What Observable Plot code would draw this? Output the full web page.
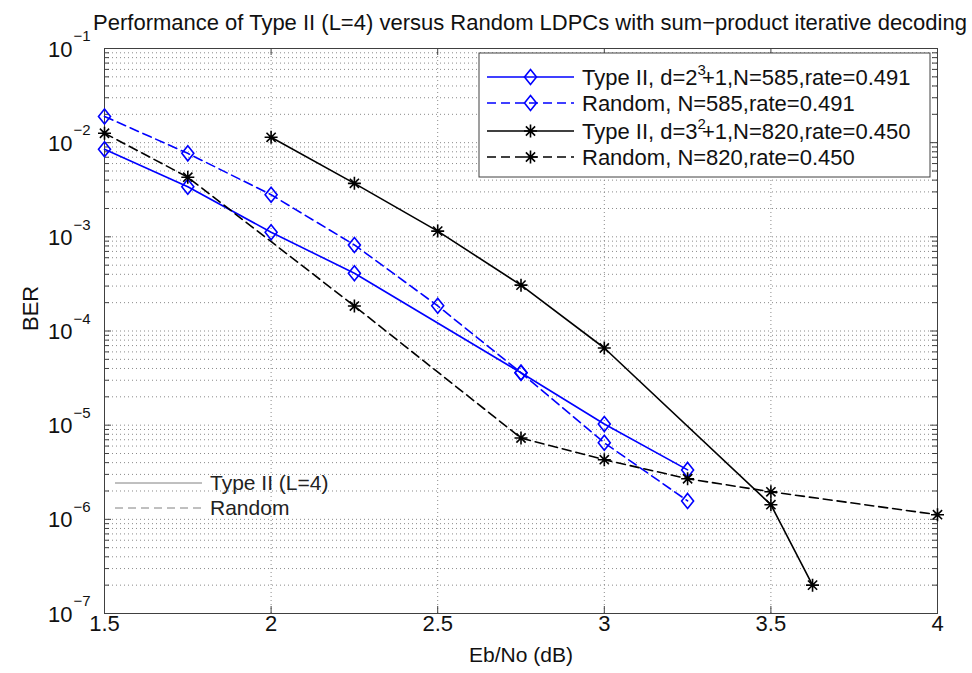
<!DOCTYPE html>
<html><head><meta charset="utf-8">
<script src="https://cdn.jsdelivr.net/npm/d3@7"></script>
<script src="https://cdn.jsdelivr.net/npm/@observablehq/plot@0.6"></script>
<style>
body{margin:0;background:#fff}
svg{font-family:"Liberation Sans",Arial,Helvetica,sans-serif}
</style>
</head><body><div id="chart"></div>
<script>
// ---- data ----
const titleText = "Performance of Type II (L=4) versus Random LDPCs with sum\u2212product iterative decoding";
const xLabel = "Eb/No (dB)";
const yLabel = "BER";

const xType585 = [1.5, 1.75, 2, 2.25, 2.75, 3, 3.25];
const berType585 = [8.5e-3, 3.4e-3, 1.12e-3, 4.1e-4, 3.6e-5, 1.03e-5, 3.35e-6];
const xRand585 = [1.5, 1.75, 2, 2.25, 2.5, 2.75, 3, 3.25];
const berRand585 = [1.9e-2, 7.7e-3, 2.8e-3, 8.2e-4, 1.85e-4, 3.6e-5, 6.5e-6, 1.57e-6];
const xType820 = [2, 2.25, 2.5, 2.75, 3, 3.5, 3.625];
const berType820 = [1.14e-2, 3.7e-3, 1.15e-3, 3.07e-4, 6.6e-5, 1.43e-6, 2.0e-7];
const xRand820 = [1.5, 1.75, 2.25, 2.75, 3, 3.25, 3.5, 4];
const berRand820 = [1.26e-2, 4.3e-3, 1.84e-4, 7.3e-6, 4.3e-6, 2.7e-6, 1.96e-6, 1.12e-6];

const xTicks = [1.5, 2, 2.5, 3, 3.5, 4];
const xTickLabels = ["1.5", "2", "2.5", "3", "3.5", "4"];
const yDecades = [1e-1, 1e-2, 1e-3, 1e-4, 1e-5, 1e-6, 1e-7];
const yExpLabels = ["\u22121", "\u22122", "\u22123", "\u22124", "\u22125", "\u22126", "\u22127"];

// ---- layout / style ----
const W = 972, H = 673;
const mL = 104, mR = 35, mT = 48, mB = 60;
const plotW = W - mL - mR, plotH = H - mT - mB;
const BLUE = "#0000ff", BLACK = "#000000";
const DASH = "9,5";
const FS = 22;

const rowsOf = (xs, ys) => xs.map((x, i) => ({x, y: ys[i]}));
const s585t = rowsOf(xType585, berType585);
const s585r = rowsOf(xRand585, berRand585);
const s820t = rowsOf(xType820, berType820);
const s820r = rowsOf(xRand820, berRand820);

// minor log ticks / grid
const yMinor = [];
for (const d of yDecades.slice(1)) for (const m of [2,3,4,5,6,7,8,9]) yMinor.push(m * d);
const yAllGrid = [...yDecades, ...yMinor];

const diamondSym = {draw(ctx) { ctx.moveTo(0, -7.5); ctx.lineTo(6, 0); ctx.lineTo(0, 7.5); ctx.lineTo(-6, 0); ctx.closePath(); }};
const starSym = {draw(ctx) {
  ctx.moveTo(-6.5, 0); ctx.lineTo(6.5, 0); ctx.moveTo(0, -6.5); ctx.lineTo(0, 6.5);
  ctx.moveTo(-4.6, -4.6); ctx.lineTo(4.6, 4.6); ctx.moveTo(-4.6, 4.6); ctx.lineTo(4.6, -4.6);
}};

const chart = Plot.plot({
  width: W, height: H,
  marginLeft: mL, marginRight: mR, marginTop: mT, marginBottom: mB,
  style: {fontSize: FS + "px", fontFamily: "'Liberation Sans', Arial, sans-serif", background: "#fff", overflow: "visible"},
  x: {domain: [1.5, 4], axis: null},
  y: {type: "log", domain: [1e-7, 1e-1], axis: null},
  marks: [
    Plot.ruleY(yAllGrid, {y: d => d, stroke: "#8a8a8a", strokeDasharray: "1,3", strokeWidth: 1}),
    Plot.ruleX(xTicks.slice(1, -1), {x: d => d, stroke: "#8a8a8a", strokeDasharray: "1,3", strokeWidth: 1}),
    // inward ticks
    Plot.tickY(yDecades, {y: d => d, insetRight: plotW - 7, stroke: "#404040"}),
    Plot.tickY(yDecades, {y: d => d, insetLeft: plotW - 7, stroke: "#404040"}),
    Plot.tickY(yMinor, {y: d => d, insetRight: plotW - 5, stroke: "#404040"}),
    Plot.tickY(yMinor, {y: d => d, insetLeft: plotW - 5, stroke: "#404040"}),
    Plot.tickX(xTicks, {x: d => d, insetTop: plotH - 7, stroke: "#404040"}),
    Plot.tickX(xTicks, {x: d => d, insetBottom: plotH - 7, stroke: "#404040"}),
    Plot.frame({stroke: "#404040", strokeWidth: 1}),
    // series lines
    Plot.line(s585t, {x: "x", y: "y", stroke: BLUE, strokeWidth: 1.6}),
    Plot.line(s585r, {x: "x", y: "y", stroke: BLUE, strokeWidth: 1.6, strokeDasharray: DASH}),
    Plot.line(s820t, {x: "x", y: "y", stroke: BLACK, strokeWidth: 1.6}),
    Plot.line(s820r, {x: "x", y: "y", stroke: BLACK, strokeWidth: 1.6, strokeDasharray: DASH}),
    // markers
    Plot.dot(s585t, {x: "x", y: "y", symbol: diamondSym, stroke: BLUE, fill: "none", strokeWidth: 1.6}),
    Plot.dot(s585r, {x: "x", y: "y", symbol: diamondSym, stroke: BLUE, fill: "none", strokeWidth: 1.6}),
    Plot.dot(s820t, {x: "x", y: "y", symbol: starSym, stroke: BLACK, fill: "none", strokeWidth: 1.6}),
    Plot.dot(s820r, {x: "x", y: "y", symbol: starSym, stroke: BLACK, fill: "none", strokeWidth: 1.6}),
    // tick labels
    Plot.text(xTicks, {x: d => d, frameAnchor: "bottom", text: (d, i) => xTickLabels[i], dy: 17, fontSize: FS, fill: "#111"}),
    Plot.text(yDecades, {y: d => d, frameAnchor: "left", text: () => "10", textAnchor: "end", dx: -32, dy: 1, fontSize: FS, fill: "#111"}),
    Plot.text(yDecades, {y: d => d, frameAnchor: "left", text: (d, i) => yExpLabels[i], textAnchor: "start", dx: -31, dy: -12, fontSize: 15, fill: "#111"}),
    // titles
    Plot.text([titleText], {frameAnchor: "top", text: d => d, dx: 9, dy: -34, fontSize: FS, fill: "#111"}),
    Plot.text([xLabel], {frameAnchor: "bottom", text: d => d, dy: 48, fontSize: 21, fill: "#111"}),
    Plot.text([yLabel], {frameAnchor: "left", text: d => d, dx: -74, rotate: -90, fontSize: FS, fill: "#111"})
  ]
});

// ---- legends (pixel-placed annotation) ----
const svg = d3.select(chart);
const symPath = s => d3.symbol().type(s)();

const legendItems = [
  {stroke: BLUE, dash: null, sym: diamondSym, pre: "Type II, d=2", sup: "3", post: "+1,N=585,rate=0.491"},
  {stroke: BLUE, dash: DASH, sym: diamondSym, pre: "Random, N=585,rate=0.491"},
  {stroke: BLACK, dash: null, sym: starSym, pre: "Type II, d=3", sup: "2", post: "+1,N=820,rate=0.450"},
  {stroke: BLACK, dash: DASH, sym: starSym, pre: "Random, N=820,rate=0.450"}
];
const L = {x0: 479, x1: 930, y0: 53, y1: 177, tok0: 487, tok1: 574, tx: 582, rows: [77, 103, 131, 157]};
const g = svg.append("g").attr("text-anchor", "start");
g.append("rect").attr("x", L.x0).attr("y", L.y0).attr("width", L.x1 - L.x0).attr("height", L.y1 - L.y0)
  .attr("fill", "#fff").attr("stroke", "#404040");
legendItems.forEach((it, i) => {
  const y = L.rows[i];
  g.append("line").attr("x1", L.tok0).attr("x2", L.tok1).attr("y1", y).attr("y2", y)
    .attr("stroke", it.stroke).attr("stroke-width", 1.6).attr("stroke-dasharray", it.dash);
  g.append("path").attr("d", symPath(it.sym)).attr("transform", `translate(${(L.tok0 + L.tok1) / 2},${y})`)
    .attr("fill", "none").attr("stroke", it.stroke).attr("stroke-width", 1.6);
  const t = g.append("text").attr("x", L.tx).attr("y", y).attr("dy", "0.35em").attr("font-size", FS).attr("fill", "#111");
  t.append("tspan").text(it.pre);
  if (it.sup) {
    t.append("tspan").attr("dy", -10).attr("font-size", 15).text(it.sup);
    t.append("tspan").attr("dy", 10).attr("dx", -4).text(it.post);
  }
});

const legend2 = [
  {dash: null, label: "Type II (L=4)", y: 483},
  {dash: "8,5", label: "Random", y: 508}
];
legend2.forEach(it => {
  g.append("line").attr("x1", 115).attr("x2", 202).attr("y1", it.y).attr("y2", it.y)
    .attr("stroke", "#808080").attr("stroke-width", 1).attr("stroke-dasharray", it.dash);
  g.append("text").attr("x", 210).attr("y", it.y).attr("dy", "0.35em").attr("font-size", 21).attr("fill", "#222").text(it.label);
});

document.getElementById("chart").appendChild(chart);
</script>
</body></html>
